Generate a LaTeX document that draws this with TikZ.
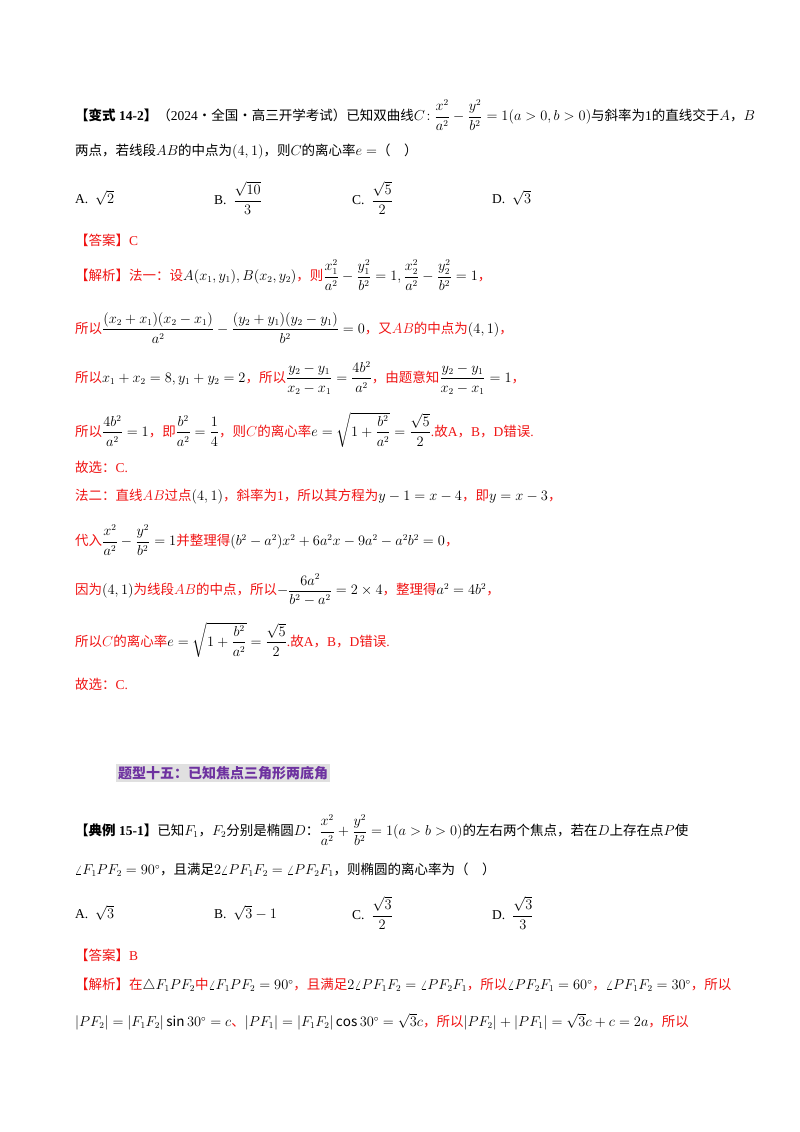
\documentclass[tikz,border=0pt]{standalone}
\usepackage{amsmath}
\usepackage{fontspec}
\setmainfont{Noto Sans CJK SC}
\newfontfamily\latf{Liberation Serif}
\newcommand\Lt[1]{{\latf #1}}
\definecolor{ans}{RGB}{240,20,20}
\definecolor{ttl}{RGB}{110,50,160}
\begin{document}
\begin{tikzpicture}[x=1pt,y=-1pt,
 ln/.style={anchor=west,inner sep=0pt,font=\fontsize{13.5}{16}\selectfont},
 rd/.style={ln,text=ans}]
\useasboundingbox (0,0) rectangle (800,1132);
\fill[white] (0,0) rectangle (800,1132);
\node[ln] (l1) at (75,115) {\textbf{【变式\Lt{ 14-2}】}（\Lt{2024}·全国·高三开学考试）已知双曲线$C\!:\dfrac{x^2}{a^2}-\dfrac{y^2}{b^2}=1(a>0,b>0)$与斜率为\Lt{1}的直线交于$A$，$B$};
\node[ln] (l2) at (75,152) {两点，若线段$AB$的中点为$(4,1)$，则$C$的离心率$e=$（\quad）};
\node[ln] (oa) at (75,198) {\Lt{A.}\enspace$\sqrt2$};
\node[ln] (ob) at (214,198) {\Lt{B.}\enspace$\dfrac{\sqrt{10}}{3}$};
\node[ln] (oc) at (352,198) {\Lt{C.}\enspace$\dfrac{\sqrt5}{2}$};
\node[ln] (od) at (492,198) {\Lt{D.}\enspace$\sqrt3$};
\node[rd] (a1) at (75,240) {【答案】\Lt{C}};
\node[rd] (j1) at (75,275) {【解析】法一：设$\color{black}A(x_1,y_1),B(x_2,y_2)$，则$\color{black}\dfrac{x_1^2}{a^2}-\dfrac{y_1^2}{b^2}=1,\dfrac{x_2^2}{a^2}-\dfrac{y_2^2}{b^2}=1$，};
\node[rd] (j2) at (75,328) {所以$\color{black}\dfrac{(x_2+x_1)(x_2-x_1)}{a^2}-\dfrac{(y_2+y_1)(y_2-y_1)}{b^2}=0$，又$AB$的中点为$\color{black}(4,1)$，};
\node[rd] (j3) at (75,378) {所以$\color{black}x_1+x_2=8,y_1+y_2=2$，所以$\color{black}\dfrac{y_2-y_1}{x_2-x_1}=\dfrac{4b^2}{a^2}$，由题意知$\color{black}\dfrac{y_2-y_1}{x_2-x_1}=1$，};
\node[rd] (j4) at (75,430) {所以$\color{black}\dfrac{4b^2}{a^2}=1$，即$\color{black}\dfrac{b^2}{a^2}=\dfrac14$，则$C$的离心率$\color{black}e=\sqrt{1+\dfrac{b^2}{a^2}}=\dfrac{\sqrt5}{2}$\Lt{.}故\Lt{A}，\Lt{B}，\Lt{D}错误\Lt{.}};
\node[rd] (g1) at (75,467) {故选：\Lt{C.}};
\node[rd] (f1) at (75,497) {法二：直线$AB$过点$\color{black}(4,1)$，斜率为\Lt{1}，所以其方程为$\color{black}y-1=x-4$，即$\color{black}y=x-3$，};
\node[rd] (f2) at (75,540) {代入$\color{black}\dfrac{x^2}{a^2}-\dfrac{y^2}{b^2}=1$并整理得$\color{black}(b^2-a^2)x^2+6a^2x-9a^2-a^2b^2=0$，};
\node[rd] (f3) at (75,590) {因为$\color{black}(4,1)$为线段$AB$的中点，所以$\color{black}-\dfrac{6a^2}{b^2-a^2}=2\times4$，整理得$\color{black}a^2=4b^2$，};
\node[rd] (f4) at (75,640) {所以$C$的离心率$\color{black}e=\sqrt{1+\dfrac{b^2}{a^2}}=\dfrac{\sqrt5}{2}$\Lt{.}故\Lt{A}，\Lt{B}，\Lt{D}错误\Lt{.}};
\node[rd] (g2) at (75,684) {故选：\Lt{C.}};
\node[anchor=west,fill=black!12,text=ttl,inner sep=2pt,font=\fontsize{14}{16}\selectfont\bfseries] (t) at (116,773) {题型十五：已知焦点三角形两底角};
\node[ln] (e1) at (75,830) {\textbf{【典例\Lt{ 15-1}】}已知$F_1$，$F_2$分别是椭圆$D$：$\dfrac{x^2}{a^2}+\dfrac{y^2}{b^2}=1(a>b>0)$的左右两个焦点，若在$D$上存在点$P$使};
\node[ln] (e2) at (75,870) {$\angle F_1PF_2=90^\circ$，且满足$2\angle PF_1F_2=\angle PF_2F_1$，则椭圆的离心率为（\quad）};
\node[ln] (pa) at (75,913) {\Lt{A.}\enspace$\sqrt3$};
\node[ln] (pb) at (214,913) {\Lt{B.}\enspace$\sqrt3-1$};
\node[ln] (pc) at (352,913) {\Lt{C.}\enspace$\dfrac{\sqrt3}{2}$};
\node[ln] (pd) at (492,913) {\Lt{D.}\enspace$\dfrac{\sqrt3}{3}$};
\node[rd] (a2) at (75,955) {【答案】\Lt{B}};
\node[rd] (k1) at (75,985) {【解析】在$\color{black}\triangle F_1PF_2$中$\color{black}\angle F_1PF_2=90^\circ$，且满足$\color{black}2\angle PF_1F_2=\angle PF_2F_1$，所以$\color{black}\angle PF_2F_1=60^\circ$，$\color{black}\angle PF_1F_2=30^\circ$，所以};
\node[rd] (k2) at (75,1022) {$\color{black}|PF_2|=|F_1F_2|\sin30^\circ=c$、$\color{black}|PF_1|=|F_1F_2|\cos30^\circ=\sqrt3c$，所以$\color{black}|PF_2|+|PF_1|=\sqrt3c+c=2a$，所以};
\end{tikzpicture}
\end{document}
